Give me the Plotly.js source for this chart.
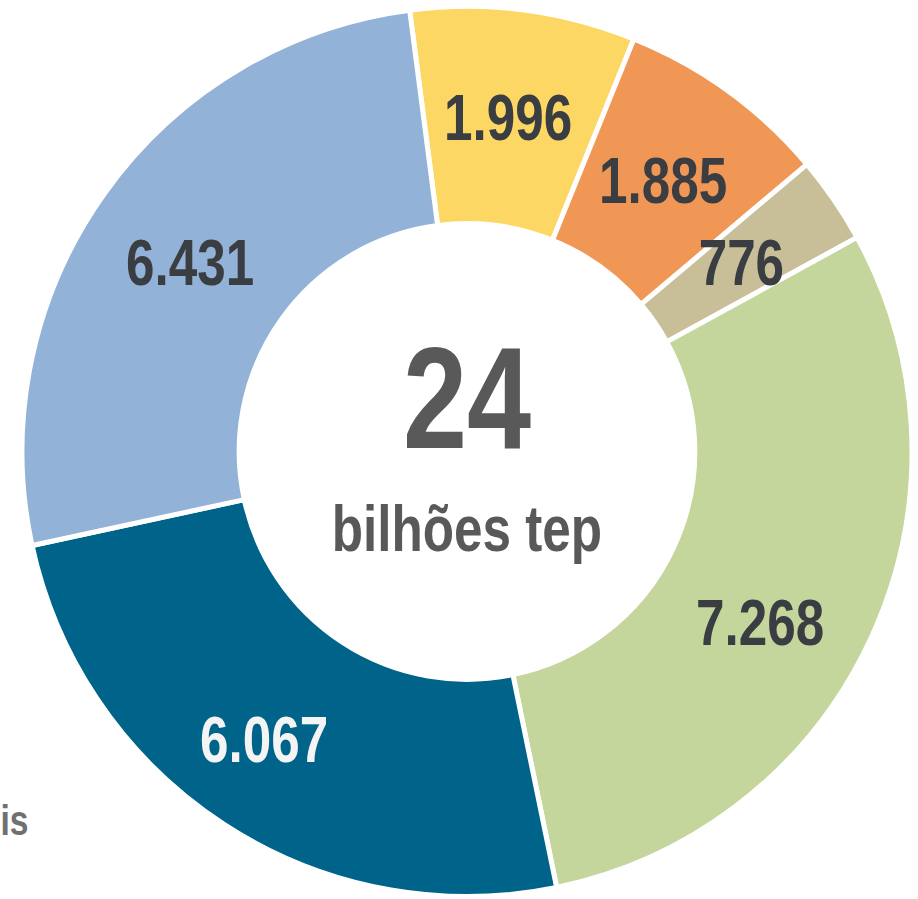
<!DOCTYPE html>
<html>
<head>
<meta charset="utf-8">
<script src="https://cdn.plot.ly/plotly-3.0.1.min.js"></script>
<style>
  html, body { margin: 0; padding: 0; background: #ffffff; }
  #chart { width: 918px; height: 899px; }
</style>
</head>
<body>
<div id="chart"></div>
<script>
// ---- data ----
const categories = ["Amarelo", "Laranja", "Bege", "Verde", "Azul escuro", "Azul claro"];
const values = [1996, 1885, 776, 7268, 6067, 6431];
const colors = ["#FDD764", "#F19756", "#C8BF98", "#C4D69B", "#006389", "#93B2D7"];
const labelColors = ["#3A3D42", "#3A3D42", "#3A3D42", "#3A3D42", "#F4F4F4", "#3A3D42"];
const centerValue = "24";
const centerUnit = "bilhões tep";
const cutLegendText = "is";

// ---- layout / style constants ----
const W = 918, H = 899;
const cx = 467, cy = 451.5, R = 445, holeFrac = 0.512;
const rotation = -7.4;
const squeeze = 0.8;  // emulate a condensed typeface
// small pixel nudges of the value labels away from the slice centroid
const labelNudge = [[-2, 0], [-1, 2], [-3, 2], [-12, 30], [-19, 7], [-2, 5]];

function fmt(v) {
  return String(v).replace(/\B(?=(\d{3})+(?!\d))/g, ".");
}

const total = values.reduce((a, b) => a + b, 0);
const rMid = R * (1 + holeFrac) / 2;
const FAM = "Liberation Sans, Arial, sans-serif";

const annotations = [];
let cum = 0;
values.forEach((v, i) => {
  const mid = rotation + (cum + v / 2) / total * 360;
  cum += v;
  const th = mid * Math.PI / 180;
  const px = cx + rMid * Math.sin(th) + labelNudge[i][0];
  const py = cy - rMid * Math.cos(th) + labelNudge[i][1];
  annotations.push({
    x: px / W, y: (H - py) / H, xref: "paper", yref: "paper",
    text: "<b>" + fmt(v) + "</b>", showarrow: false,
    xanchor: "center", yanchor: "middle",
    font: { family: FAM, size: 64, color: labelColors[i] }
  });
});

annotations.push({
  x: cx / W, y: (H - 398) / H, xref: "paper", yref: "paper",
  text: "<b>" + centerValue + "</b>", showarrow: false,
  xanchor: "center", yanchor: "middle",
  font: { family: FAM, size: 144, color: "#595959" }
});
annotations.push({
  x: cx / W, y: (H - 529) / H, xref: "paper", yref: "paper",
  text: "<b>" + centerUnit + "</b>", showarrow: false,
  xanchor: "center", yanchor: "middle",
  font: { family: FAM, size: 64, color: "#595959" }
});
annotations.push({
  x: -5 / W, y: (H - 820) / H, xref: "paper", yref: "paper",
  text: "<b>" + cutLegendText + "</b>", showarrow: false,
  xanchor: "left", yanchor: "middle",
  font: { family: FAM, size: 42, color: "#707070" }
});

const trace = {
  type: "pie",
  labels: categories,
  values: values,
  hole: holeFrac,
  sort: false,
  direction: "clockwise",
  rotation: rotation,
  textinfo: "none",
  hoverinfo: "label+value",
  marker: { colors: colors, line: { color: "#ffffff", width: 5 } },
  domain: { x: [(cx - R) / W, (cx + R) / W], y: [(H - cy - R) / H, (H - cy + R) / H] },
  automargin: false,
  showlegend: false
};

const layout = {
  width: W, height: H,
  margin: { l: 0, r: 0, t: 0, b: 0, pad: 0 },
  paper_bgcolor: "#ffffff",
  plot_bgcolor: "#ffffff",
  showlegend: false,
  annotations: annotations
};

Plotly.newPlot("chart", [trace], layout, { displayModeBar: false, staticPlot: true }).then(() => {
  document.querySelectorAll("#chart text.annotation-text").forEach(t => {
    const b = t.getBBox();
    const c = b.x + b.width / 2;
    t.setAttribute("transform", `translate(${c},0) scale(${squeeze},1) translate(${-c},0)`);
  });
});
</script>
</body>
</html>
